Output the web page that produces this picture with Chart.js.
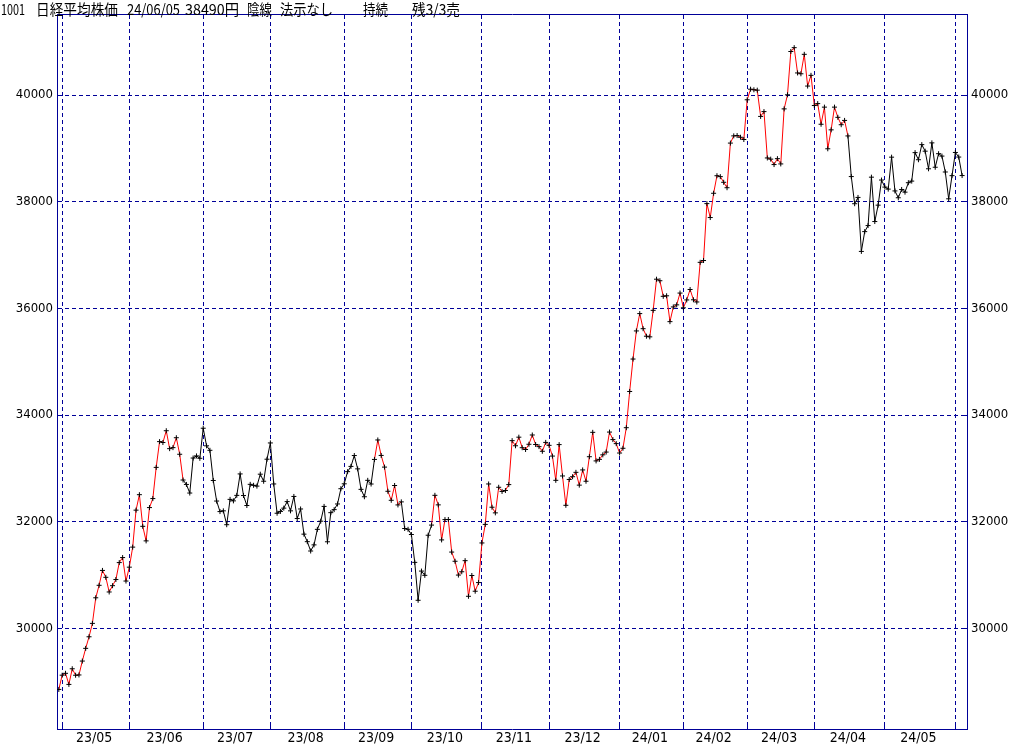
<!DOCTYPE html>
<html>
<head>
<meta charset="utf-8">
<script src="https://cdn.jsdelivr.net/npm/chart.js@4/dist/chart.umd.min.js"></script>
<style>
html,body{margin:0;padding:0;background:#ffffff;overflow:hidden;}
canvas{display:block;}
</style>
</head>
<body>
<canvas id="c" width="1024" height="745"></canvas>
<script>
// ---- data (Nikkei 225 daily closes, 23/04/28 .. 24/06/05) ----
const monthLabels = ['23/04','23/05','23/06','23/07','23/08','23/09','23/10','23/11','23/12','24/01','24/02','24/03','24/04','24/05','24/06'];
const monthDays   = [1,20,22,20,22,20,21,20,21,19,19,20,21,21,3];

const closes = [
  28856,
  29123,29158,28950,29243,29122,29127,29388,29626,29843,30094,30574,30808,31087,30958,30683,30801,30916,31234,31328,30888,
  31148,31524,32217,32507,31914,31641,32265,32434,33019,33502,33485,33706,33370,33389,33575,33265,32782,32699,32538,33194,33234,33189,
  33753,33423,33339,32773,32388,32190,32204,31944,32419,32391,32494,32896,32491,32304,32701,32683,32668,32891,32759,33172,
  33477,32708,32159,32193,32255,32377,32204,32474,32060,32239,31767,31626,31451,31566,31857,32010,32287,31624,32170,32227,32333,32619,
  32711,32939,33037,33241,32991,32607,32468,32776,32707,33168,33533,33243,33024,32571,32402,32679,32315,32372,31873,31858,
  31760,31238,30527,31075,30995,31747,31937,32495,32316,31659,32040,32042,31431,31259,31000,31062,31270,30602,30992,30697,30859,
  31602,31950,32708,32272,32166,32646,32568,32585,32696,33520,33424,33585,33388,33354,33452,33626,33448,33408,33321,33487,
  33432,33231,32776,33446,32858,32308,32792,32844,32926,32686,32971,32759,33219,33676,33140,33169,33254,33306,33681,33540,33464,
  33288,33377,33763,34442,35050,35577,35902,35619,35478,35466,35963,36547,36518,36226,36236,35751,36027,36066,36287,
  36011,36158,36354,36161,36120,36863,36897,37964,37703,38158,38487,38470,38364,38262,39099,39234,39240,39208,39166,
  39911,40109,40098,40091,39599,39689,38820,38798,38696,38807,38708,39740,40004,40816,40888,40414,40398,40763,40168,40369,
  39803,39839,39452,39773,38992,39347,39773,39582,39443,39524,39233,38471,37962,38080,37068,37439,37552,38460,37628,37935,38406,
  38274,38236,38835,38202,38074,38229,38179,38356,38386,38920,38787,39070,38947,38617,39103,38646,38900,38855,38557,38054,38488,
  38923,38837,38490
];

// indices where the signal state flips (first state: buy = red line)
const signalSwitches = [38, 95, 103, 112, 236];
const stateColors = ['#ff0000', '#000000'];

const yTickValues = [30000, 32000, 34000, 36000, 38000, 40000];

const headerTexts = ['1001', '日経平均株価', '24/06/05', '38490円', '陰線', '法示なし', '持続', '残3/3売'];

// ---- derived ----
const monthStart = [];
{ let acc = 0; monthDays.forEach(d => { monthStart.push(acc); acc += d; }); }
const labelMonths = monthLabels.map((l, k) => k).filter(k => monthDays[k] >= 10);
const labelPos = labelMonths.map(k => monthStart[k] + (monthDays[k] - 1) / 2);
const points = closes.map((v, i) => ({ x: i, y: v }));
function stateAt(i) {
  let s = 0;
  signalSwitches.forEach(t => { if (i >= t) s++; });
  return s % 2;
}

// ---- layout / style ----
const NAVY = '#000098';
const X_MIN = -0.54, X_MAX = 270.46;
const Y_MIN = 28114, Y_MAX = 41504;
const headerLayout = [[1,24],[36,82],[127,53],[185,54],[247,25],[280,53],[363,25],[412,48]];

const headerPlugin = {
  id: 'headerText',
  afterDraw(chart) {
    const ctx = chart.ctx;
    ctx.save();
    ctx.fillStyle = '#000';
    ctx.textBaseline = 'alphabetic';
    ctx.textAlign = 'left';
    ctx.font = '15px "Noto Sans CJK JP"';
    headerTexts.forEach((t, k) => {
      const [x, w] = headerLayout[k];
      const mw = ctx.measureText(t).width;
      ctx.save();
      ctx.translate(x, 15);
      ctx.scale(w / mw, 1);
      ctx.fillText(t, 0, 0);
      ctx.restore();
    });
    ctx.restore();
  }
};

const tickFontY = { family: '"Liberation Sans Narrow", "DejaVu Sans Condensed", "DejaVu Sans", sans-serif', size: 13 };
const tickFontX = { family: '"Liberation Sans Narrow", "DejaVu Sans Condensed", "DejaVu Sans", sans-serif', size: 14 };

new Chart(document.getElementById('c'), {
  type: 'line',
  data: {
    datasets: [{
      data: points,
      xAxisID: 'xBot',
      yAxisID: 'y',
      borderWidth: 1,
      borderColor: '#ff0000',
      tension: 0,
      fill: false,
      pointStyle: 'cross',
      pointRadius: 2.5,
      pointBorderWidth: 1,
      pointBorderColor: '#000',
      pointBackgroundColor: '#000',
      segment: {
        borderColor: c => stateColors[stateAt(c.p1DataIndex)]
      }
    }]
  },
  options: {
    responsive: false,
    devicePixelRatio: 1,
    animation: false,
    events: [],
    layout: { padding: { top: 14, left: 0, right: 0, bottom: 0 } },
    plugins: { legend: { display: false }, tooltip: { enabled: false }, title: { display: false } },
    scales: {
      xTop: {
        type: 'linear', position: 'top', min: X_MIN, max: X_MAX,
        afterBuildTicks: s => { s.ticks = monthStart.slice(1).map(v => ({ value: v })); },
        afterFit: s => { s.height = 0; },
        ticks: { display: false },
        grid: { color: NAVY, lineWidth: 1, drawTicks: true, tickLength: -4, tickColor: NAVY },
        border: { display: true, color: NAVY, width: 1, dash: [4, 3] }
      },
      xTicks: {
        type: 'linear', position: 'bottom', weight: -1, min: X_MIN, max: X_MAX,
        afterBuildTicks: s => { s.ticks = monthStart.slice(1).map(v => ({ value: v })); },
        afterFit: s => { s.height = 0; },
        ticks: { display: false },
        grid: { display: true, drawOnChartArea: false, drawTicks: true, tickLength: -4, tickColor: NAVY },
        border: { display: false }
      },
      xBot: {
        type: 'linear', position: 'bottom', min: X_MIN, max: X_MAX,
        afterBuildTicks: s => { s.ticks = labelPos.map(v => ({ value: v })); },
        afterFit: s => { s.height = 16; },
        ticks: {
          autoSkip: false, maxRotation: 0, minRotation: 0, padding: 1,
          color: '#000', font: tickFontX,
          callback: (v, i) => monthLabels[labelMonths[i]]
        },
        grid: { display: false, drawTicks: false },
        border: { display: true, color: NAVY, width: 1 }
      },
      y: {
        type: 'linear', position: 'left', min: Y_MIN, max: Y_MAX,
        afterBuildTicks: s => { s.ticks = yTickValues.map(v => ({ value: v })); },
        afterFit: s => { s.width = 57; },
        ticks: { color: '#000', font: tickFontY, padding: 7, callback: v => String(v) },
        grid: { color: NAVY, lineWidth: 1, drawTicks: true, tickLength: -3, tickColor: NAVY },
        border: { display: true, color: NAVY, width: 1, dash: [4, 3] }
      },
      yR: {
        type: 'linear', position: 'right', min: Y_MIN, max: Y_MAX,
        afterBuildTicks: s => { s.ticks = yTickValues.map(v => ({ value: v })); },
        afterFit: s => { s.width = 57; },
        ticks: { color: '#000', font: tickFontY, padding: 7, callback: v => String(v) },
        grid: { display: true, drawOnChartArea: false, drawTicks: true, tickLength: -3, tickColor: NAVY },
        border: { display: true, color: NAVY, width: 1 }
      }
    }
  },
  plugins: [headerPlugin]
});
</script>
</body>
</html>
